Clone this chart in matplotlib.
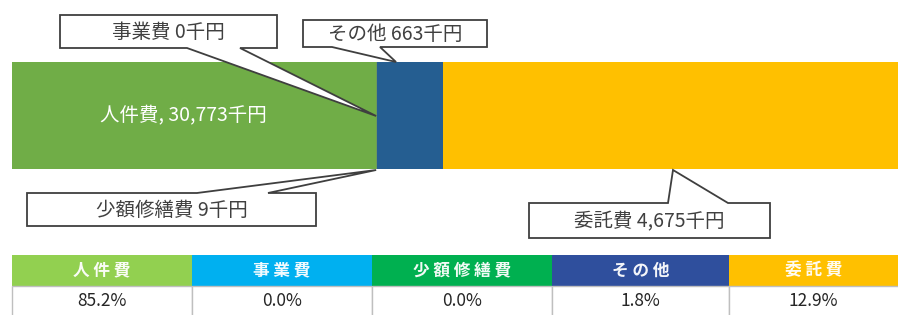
import matplotlib
matplotlib.use("Agg")
import matplotlib.pyplot as plt
from matplotlib.patches import Polygon, Rectangle

plt.rcParams['font.family'] = ['Noto Sans CJK JP', 'DejaVu Sans']

# ---- data ----
categories = ['人件費', '事業費', '少額修繕費', 'その他', '委託費']
values_k_yen = [30773, 0, 9, 663, 4675]
# segment widths as drawn in the reference (share of bar width, %; not proportional in source)
bar_display_share = [41.1, 0.0, 0.1, 7.4, 51.4]
bar_colors = ['#70AD47', '#5B9BD5', '#6E9A5A', '#255E91', '#FFC000']
header_colors = ['#92D050', '#00B0F0', '#00B050', '#2F4F9D', '#FFC000']

total = sum(values_k_yen)
percents = [v / total * 100 for v in values_k_yen]

W, H = 898, 315
fig = plt.figure(figsize=(W / 100, H / 100), dpi=100)
fig.patch.set_facecolor('white')

# bar axes (pixel box: x 12..898, y 62..169)
bx0, bx1, by0, by1 = 12, 898, 62, 169
axb = fig.add_axes([bx0 / W, 1 - by1 / H, (bx1 - bx0) / W, (by1 - by0) / H])
left = 0
lefts = []
for w, c in zip(bar_display_share, bar_colors):
    lefts.append(left)
    axb.barh(0, w, left=left, height=1, color=c, edgecolor='none')
    left += w
axb.set_xlim(0, 100)
axb.set_ylim(-0.5, 0.5)
axb.axis('off')

def to_px(share):
    return bx0 + share * (bx1 - bx0) / 100

# overlay axes in pixel coords
ax = fig.add_axes([0, 0, 1, 1])
ax.set_xlim(0, W)
ax.set_ylim(H, 0)
ax.axis('off')
ax.patch.set_visible(False)

# label inside green segment
ax.text(to_px(lefts[0] + bar_display_share[0] / 2) - 11, 116,
        f'{categories[0]}, {values_k_yen[0]:,}千円',
        color='white', fontsize=14, ha='center', va='center')

edge = '#3F3F3F'
txtc = '#404040'

def callout(box, base, tip, text, above=True):
    x0, x1, y0, y1 = box
    b1, b2 = base
    if above:   # pointer from bottom edge
        pts = [(x0, y0), (x1, y0), (x1, y1), (b2, y1), tip, (b1, y1), (x0, y1)]
    else:       # pointer from top edge
        pts = [(x0, y0), (b1, y0), tip, (b2, y0), (x1, y0), (x1, y1), (x0, y1)]
    ax.add_patch(Polygon(pts, closed=True, facecolor='white', edgecolor=edge,
                         linewidth=1.3, zorder=5))
    ax.text((x0 + x1) / 2, (y0 + y1) / 2 + 1, text, ha='center', va='center',
            fontsize=14, color=txtc, zorder=6)

green_end = to_px(lefts[1])
blue_start = to_px(lefts[3])
callout((60, 277, 15, 48), (187, 240), (green_end, 116),
        f'{categories[1]} {values_k_yen[1]:,}千円', above=True)
callout((303, 487, 20, 47), (332, 380), (blue_start + 19, by0),
        f'{categories[3]} {values_k_yen[3]:,}千円', above=True)
callout((27, 316, 193, 226), (197, 268), (green_end, by1 + 1),
        f'{categories[2]} {values_k_yen[2]:,}千円', above=False)
callout((529, 770, 203, 238), (668, 728), (673, by1 + 1),
        f'{categories[4]} {values_k_yen[4]:,}千円', above=False)

# table
col_edges = [12, 192, 372, 552, 729, 909]
hy0, hy1, vy1 = 255, 286, 318
for i, cat in enumerate(categories):
    cx0, cx1 = col_edges[i], col_edges[i + 1]
    cx_mid = (cx0 + min(cx1, W)) / 2
    ax.add_patch(Rectangle((cx0, hy0), cx1 - cx0, hy1 - hy0,
                           facecolor=header_colors[i], edgecolor='none', zorder=2))
    ax.add_patch(Rectangle((cx0, hy1), cx1 - cx0, vy1 - hy1,
                           facecolor='white', edgecolor='#BFBFBF', linewidth=1, zorder=2))
    ax.text(cx_mid, (hy0 + hy1) / 2, ' '.join(cat), ha='center', va='center',
            color='white', fontsize=12, fontweight='bold', zorder=3, alpha=0.95)
    ax.text(cx_mid, (hy1 + 315) / 2 + 1, f'{percents[i]:.1f}%', ha='center',
            va='center', color='#262626', fontsize=12.5, zorder=3)

fig.savefig('out.png', dpi=100, facecolor='white')
